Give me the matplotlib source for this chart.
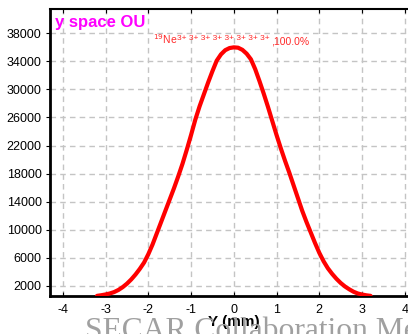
import numpy as np
import matplotlib.pyplot as plt

plt.rcParams['font.family'] = ['Liberation Sans', 'DejaVu Sans']
plt.rcParams['axes.unicode_minus'] = False

# profile of the beam in y (mm) and counts per bin
y_mm = [-3.2, -3.1, -3.0, -2.9, -2.8, -2.7, -2.6, -2.5, -2.4, -2.3, -2.2, -2.1,
        -2.0, -1.9, -1.8, -1.7, -1.6, -1.5, -1.4, -1.3, -1.2, -1.1, -1.0, -0.9,
        -0.8, -0.7, -0.6, -0.5, -0.4, -0.3, -0.2, -0.1, 0.0,
        0.1, 0.2, 0.3, 0.4, 0.5, 0.6, 0.7, 0.8, 0.9, 1.0, 1.1, 1.2,
        1.3, 1.4, 1.5, 1.6, 1.7, 1.8, 1.9, 2.0, 2.1, 2.2, 2.3, 2.4,
        2.5, 2.6, 2.7, 2.8, 2.9, 3.0, 3.1, 3.2]
counts = [560, 650, 760, 900, 1100, 1400, 1800, 2300, 2900, 3600, 4400, 5300,
          6500, 7900, 9500, 11100, 12700, 14300, 15900, 17600, 19400, 21400, 23500, 25700,
          27600, 29300, 31000, 32600, 34100, 35000, 35600, 35900, 36000,
          35950, 35650, 35100, 34300, 32900, 31200, 29400, 27500, 25500, 23500, 21600, 19800,
          18100, 16300, 14500, 12700, 11100, 9600, 8100, 6700, 5500, 4500, 3700, 3000,
          2400, 1900, 1500, 1150, 900, 750, 640, 560]

xticks = [-4, -3, -2, -1, 0, 1, 2, 3, 4]
yticks = [2000, 6000, 10000, 14000, 18000, 22000, 26000, 30000, 34000, 38000]
charge_states = ["3+"] * 8

W, H = 408, 334
fig = plt.figure(figsize=(W / 100, H / 100), dpi=100)

# watermark behind everything
fig.text(85 / W, -5 / H, "SECAR Collaboration Meeting", fontsize=22.7,
         family=['Liberation Serif', 'DejaVu Serif'], color='#a0a0a0',
         va='baseline', ha='left', zorder=0)

ax = fig.add_axes([50 / W, 38 / H, 367.6 / W, 287 / H])
ax.patch.set_alpha(0)

ax.plot(y_mm, counts, color='#ff0000', lw=3, solid_capstyle='round', zorder=3)

ax.set_xlim(-4.3, 4.3)
ax.set_ylim(540, 41470)
ax.set_xticks(xticks)
ax.set_yticks(yticks)
ax.set_xticklabels([str(v) for v in xticks])
ax.set_yticklabels([str(v) for v in yticks])
ax.tick_params(axis='both', labelsize=9, colors='black')
ax.tick_params(axis='x', direction='in', length=3, top=True, pad=6)
ax.tick_params(axis='y', direction='out', length=3, pad=3)

ax.grid(True, color='#c4c4c4', linestyle=(0, (4, 3)), linewidth=1)
ax.set_axisbelow(True)

for side in ['left', 'bottom']:
    ax.spines[side].set_linewidth(2)
ax.spines['top'].set_linewidth(1.5)
ax.spines['right'].set_visible(False)

ax.set_xlabel("Y (mm)", fontsize=11, fontweight='bold', labelpad=-1)

ax.text(0.014, 0.938, "y space OU", transform=ax.transAxes, color='#ff00ff',
        fontsize=12, fontweight='bold', va='baseline', ha='left')

# beam species label
red = '#ff2a2a'
fig.text(153 / W, 1 - 43.5 / H, r"$^{19}$Ne", color=red, fontsize=7.5, va='baseline')
fig.text(177 / W, 1 - 40 / H, " ".join(charge_states), color=red, fontsize=6, va='baseline')
fig.text(271 / W, 1 - 44 / H, ",100.0%", color=red, fontsize=7.5, va='baseline')

fig.savefig("out.png", dpi=100)
